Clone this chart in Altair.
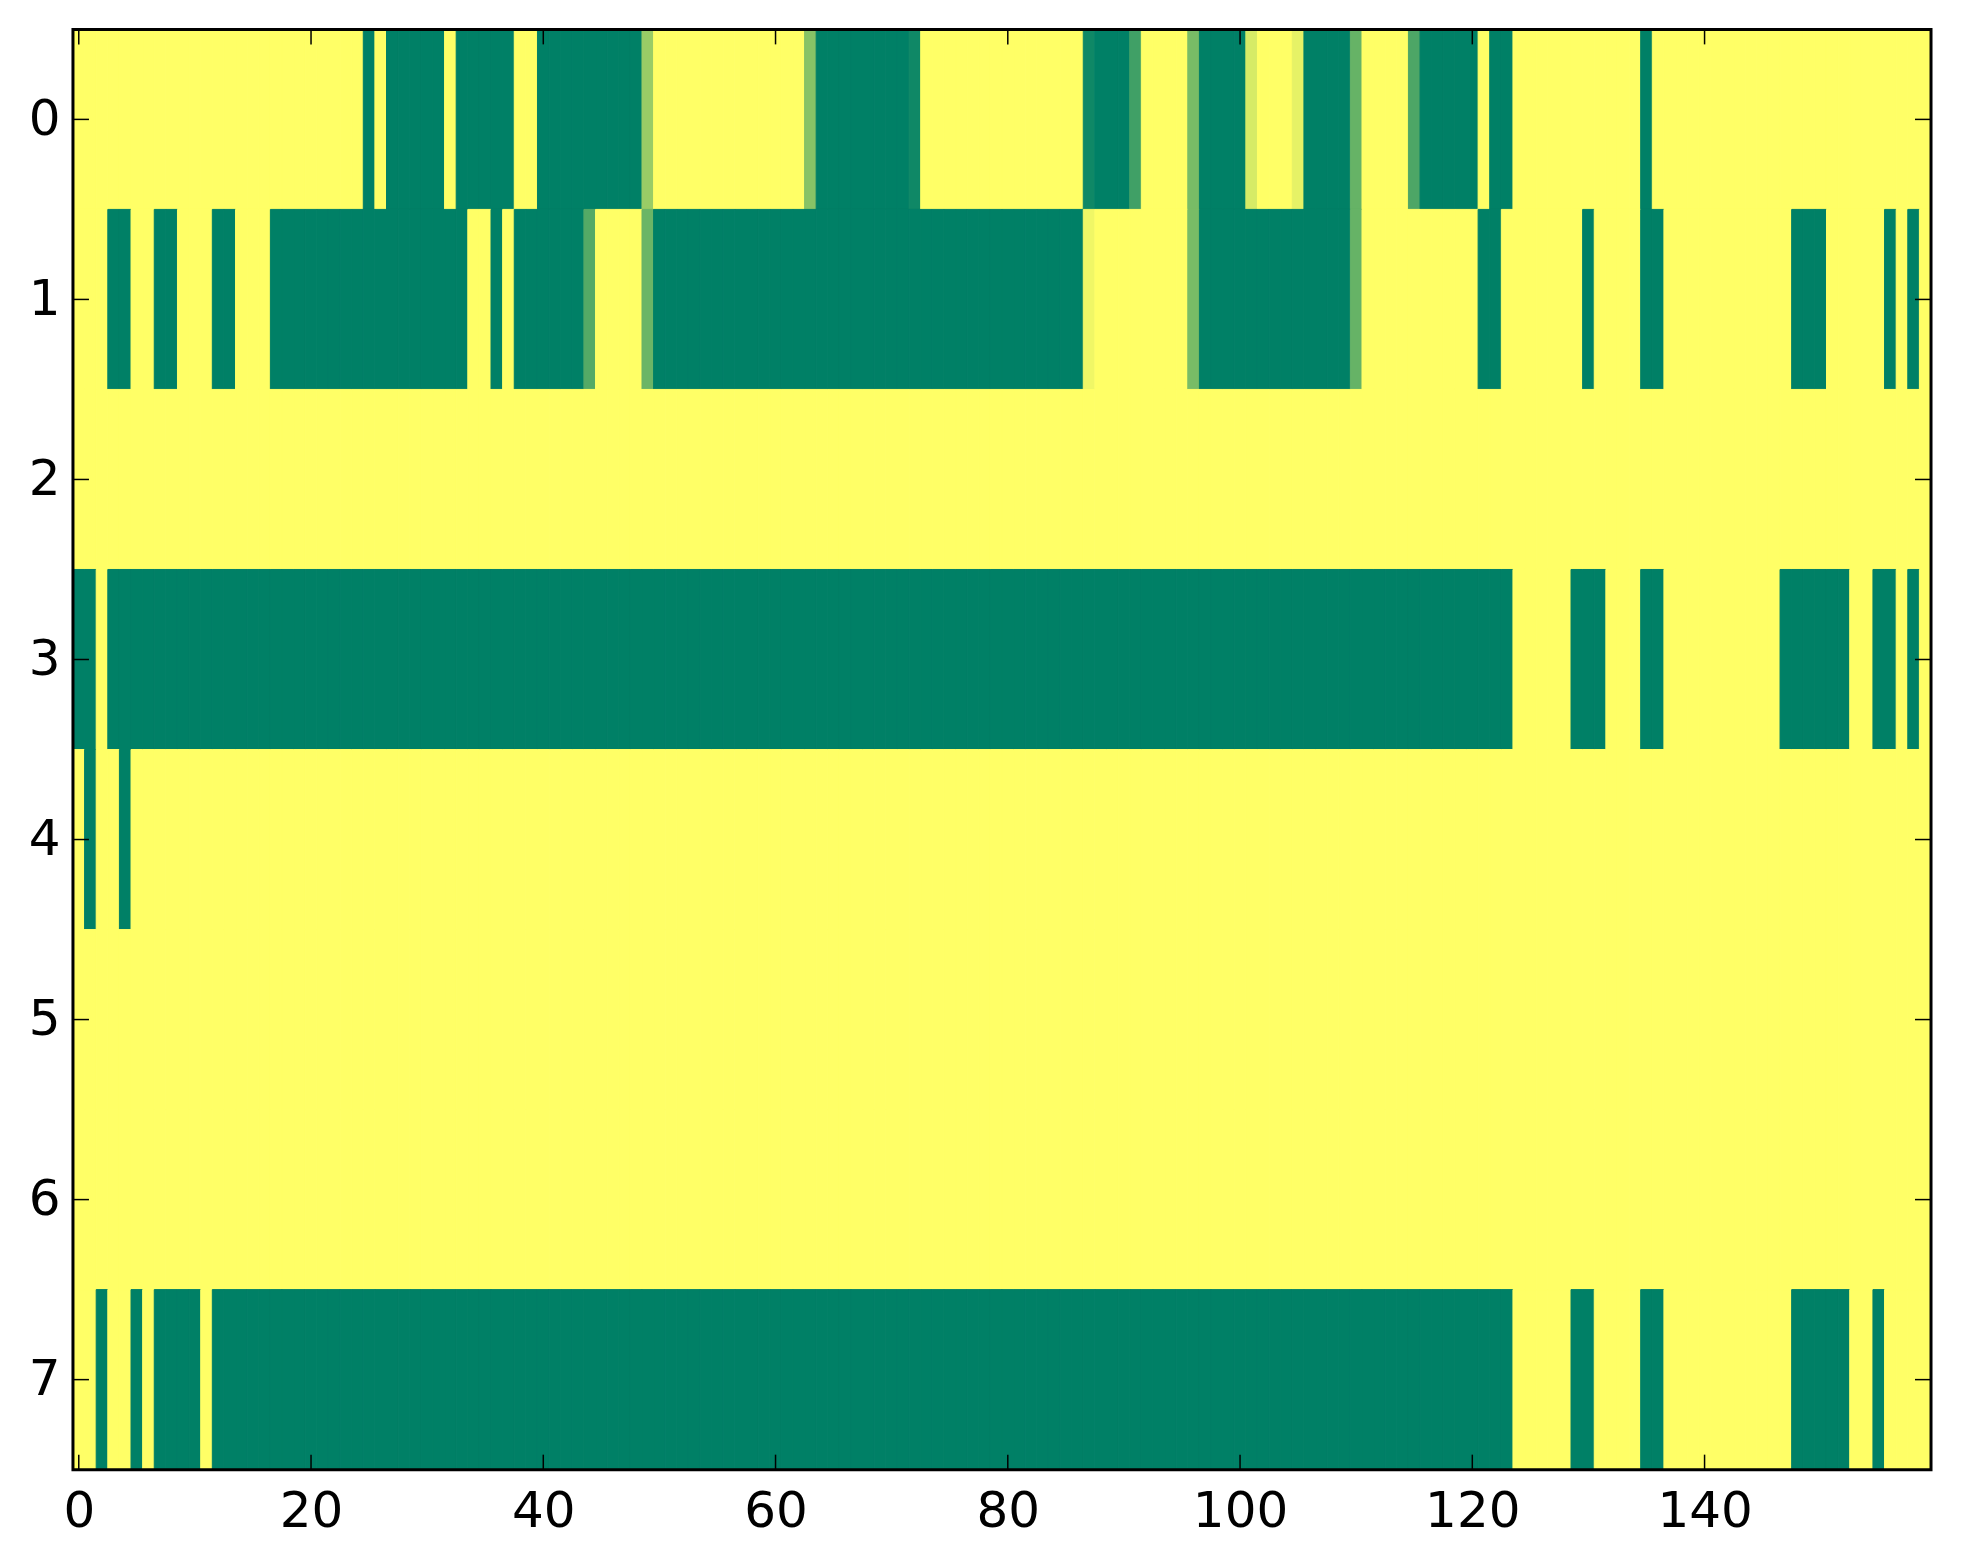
import altair as alt
import pandas as pd

# Heatmap values, one list of (value, run length) per row; 160 columns each.
row0 = [(1, 25), (0, 1), (1, 1), (0, 5), (1, 1), (0, 5), (1, 2), (0, 9), (0.6, 1),
        (1, 13), (0.53, 1), (0, 8), (0.06, 1), (1, 14), (0.06, 1), (0, 3), (0.25, 1),
        (1, 4), (0.47, 1), (0, 4), (0.84, 1), (1, 3), (0.9, 1), (0, 4), (0.4, 1),
        (1, 4), (0.3, 1), (0, 5), (1, 1), (0, 2), (1, 11), (0, 1), (1, 24)]
row1 = [(1, 3), (0, 2), (1, 2), (0, 2), (1, 3), (0, 2), (1, 3), (0, 17), (1, 2),
        (0, 1), (1, 1), (0, 6), (0.33, 1), (1, 4), (0.42, 1), (0, 37), (0.94, 1),
        (1, 8), (0.47, 1), (0, 13), (0.4, 1), (1, 10), (0, 2), (1, 7), (0, 1),
        (1, 4), (0, 2), (1, 11), (0, 3), (1, 5), (0, 1), (1, 1), (0, 1), (1, 1)]
row2 = [(1, 160)]
row3 = [(0, 2), (1, 1), (0, 121), (1, 5), (0, 3), (1, 3), (0, 2), (1, 10), (0, 6),
        (1, 2), (0, 2), (1, 1), (0, 1), (1, 1)]
row4 = [(1, 1), (0, 1), (1, 2), (0, 1), (1, 155)]
row5 = [(1, 160)]
row6 = [(1, 160)]
row7 = [(1, 2), (0, 1), (1, 2), (0, 1), (1, 1), (0, 4), (1, 1), (0, 112), (1, 5),
        (0, 2), (1, 4), (0, 2), (1, 11), (0, 5), (1, 2), (0, 1), (1, 4)]
rows = [row0, row1, row2, row3, row4, row5, row6, row7]

x_ticks = [0, 20, 40, 60, 80, 100, 120, 140]
y_ticks = [0, 1, 2, 3, 4, 5, 6, 7]

records = []
for r, runs in enumerate(rows):
    c = 0
    for v, k in runs:
        for _ in range(k):
            records.append({"row": r, "col": c, "v": v})
            c += 1
df = pd.DataFrame(records)

W, H = 1859, 1441
FONT = "DejaVu Sans"

xs = alt.Scale(domain=[-0.5, 159.5], nice=False, zero=False)
ys = alt.Scale(domain=[-0.5, 7.5], nice=False, zero=False, reverse=True)
cs = alt.Scale(domain=[0, 1], range=["#008066", "#ffff66"], interpolate="rgb")

xaxis = alt.Axis(values=x_ticks, title=None, labelFont=FONT, labelFontSize=50,
                 labelColor="black", labelPadding=17, ticks=True, tickSize=0,
                 domain=False, grid=False, labelBaseline="top", labelFlush=False,
                 labelOverlap=False, labelBound=False, format="d")
yaxis = alt.Axis(values=y_ticks, title=None, labelFont=FONT, labelFontSize=50,
                 labelColor="black", labelPadding=13, ticks=True, tickSize=0,
                 domain=False, grid=False, labelAlign="right", labelBaseline="middle",
                 labelFlush=False, labelOverlap=False, labelBound=False, format="d")

heat = alt.Chart(df).transform_calculate(
    x0="datum.col - 0.5", x1="datum.col + 0.5",
    y0="datum.row - 0.5", y1="datum.row + 0.5"
).mark_rect(strokeWidth=1).encode(
    x=alt.X("x0:Q", scale=xs, axis=xaxis),
    x2="x1:Q",
    y=alt.Y("y0:Q", scale=ys, axis=yaxis),
    y2="y1:Q",
    color=alt.Color("v:Q", scale=cs, legend=None),
    stroke=alt.Stroke("v:Q", scale=cs, legend=None),
)

xt = pd.DataFrame({"x0": x_ticks})
yt = pd.DataFrame({"y0": y_ticks})
TL = 15
tick_style = dict(color="black", strokeWidth=1.5)

bottom_ticks = alt.Chart(xt).mark_rule(**tick_style).encode(
    x=alt.X("x0:Q", scale=xs, axis=xaxis), y=alt.value(H), y2=alt.value(H - TL))
top_ticks = alt.Chart(xt).mark_rule(**tick_style).encode(
    x=alt.X("x0:Q", scale=xs, axis=xaxis), y=alt.value(0), y2=alt.value(TL))
left_ticks = alt.Chart(yt).mark_rule(**tick_style).encode(
    y=alt.Y("y0:Q", scale=ys, axis=yaxis), x=alt.value(0), x2=alt.value(TL + 1))
right_ticks = alt.Chart(yt).mark_rule(**tick_style).encode(
    y=alt.Y("y0:Q", scale=ys, axis=yaxis), x=alt.value(W), x2=alt.value(W - TL - 1))

frame = alt.Chart(pd.DataFrame({"k": [0]})).mark_rect(
    fillOpacity=0, stroke="black", strokeWidth=3
).encode(x=alt.value(0), x2=alt.value(W), y=alt.value(0), y2=alt.value(H))

chart = alt.layer(heat, bottom_ticks, top_ticks, left_ticks, right_ticks, frame).properties(
    width=W, height=H,
    autosize=alt.AutoSizeParams(type="none"),
    padding={"left": 65, "top": 21, "right": 24, "bottom": 80},
    background="white",
).configure_view(stroke=None)

chart.save("out.html", embed_options={"renderer": "svg", "actions": False})
